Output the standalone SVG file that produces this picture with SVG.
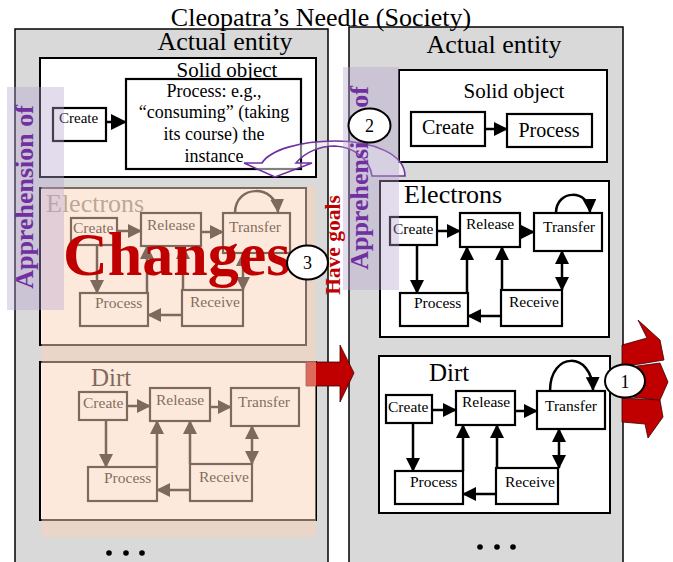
<svg xmlns="http://www.w3.org/2000/svg" width="673" height="562" viewBox="0 0 673 562">
<style>
text{font-family:"Liberation Serif","Times New Roman",serif;fill:#000}
.panel{fill:#d9d9d9;stroke:#000;stroke-width:1.5}
.box{fill:#fff;stroke:#000;stroke-width:2}
.nd{fill:#fff;stroke:#000;stroke-width:2.2}
.nt{font-size:15.5px}
.big{font-size:26px}
.c{stroke:#000;stroke-width:2.5;fill:none;marker-end:url(#ah)}
.d{marker-start:url(#ah)}
.band{fill:#b3a2d0;opacity:0.38}
.ap{font-size:26px;font-weight:bold;fill:#7030a0}
.circ{fill:#fff;stroke:#000;stroke-width:2}
.ct{font-size:18px}
.red{fill:#c00000;stroke:#3a0000;stroke-width:0.8}
</style>
<defs>
<marker id="ah" viewBox="0 0 14 14" refX="13" refY="7" markerWidth="14" markerHeight="14" markerUnits="userSpaceOnUse" orient="auto-start-reverse"><path d="M0,0 L14,7 L0,14 z" fill="#000"/></marker>
<marker id="ahL" viewBox="0 0 16 16" refX="15" refY="8" markerWidth="16" markerHeight="16" markerUnits="userSpaceOnUse" orient="auto"><path d="M0,0 L16,8 L0,16 z" fill="#000"/></marker>
</defs>

<!-- panels -->
<g id="left-panel">
<rect class="panel" x="15" y="29" width="313" height="545"/>
<text class="big" x="225" y="50" text-anchor="middle">Actual entity</text>
</g>
<g id="right-panel">
<rect class="panel" x="349" y="27" width="274" height="545"/>
<text class="big" x="494" y="53" text-anchor="middle">Actual entity</text>
</g>

<text id="title" x="321" y="26" font-size="26" text-anchor="middle">Cleopatra’s Needle (Society)</text>

<!-- left solid object -->
<g id="L-solid">
<rect class="box" x="40" y="58" width="276" height="119"/>
<text x="227" y="77" font-size="21" text-anchor="middle">Solid object</text>
</g>
<g id="L-solid-create">
<rect class="nd" x="53" y="108" width="53" height="33"/>
<text x="59" y="123" font-size="15">Create</text>
</g>
<g id="L-solid-process">
<rect class="nd" x="126" y="79" width="175" height="90"/>
<text x="214" y="97" font-size="18" text-anchor="middle">Process:  e.g.,</text>
<text x="214" y="118" font-size="18" text-anchor="middle">“consuming” (taking</text>
<text x="214" y="140" font-size="18" text-anchor="middle">its course) the</text>
<text x="214" y="162" font-size="18" text-anchor="middle">instance</text>
</g>

<!-- left electrons -->
<g id="L-electrons">
<rect class="box" x="40" y="188" width="266" height="157"/>
<text x="46" y="212" font-size="26" style="fill:#7a7a7a">Electrons</text>
</g>
<g id="LE-create"><rect class="nd" x="71" y="218" width="46" height="27"/><text class="nt" x="73" y="233">Create</text></g>
<g id="LE-release"><rect class="nd" x="141" y="213" width="60" height="33"/><text class="nt" x="147" y="230">Release</text></g>
<g id="LE-transfer"><rect class="nd" x="223" y="213" width="67" height="40"/><text class="nt" x="229" y="232">Transfer</text></g>
<g id="LE-process"><rect class="nd" x="80" y="293" width="68" height="33"/><text class="nt" x="95" y="308">Process</text></g>
<g id="LE-receive"><rect class="nd" x="182" y="290" width="61" height="36"/><text class="nt" x="190" y="307">Receive</text></g>

<!-- left dirt -->
<g id="L-dirt">
<rect class="box" x="40" y="362" width="276" height="158"/>
<text x="91" y="386" font-size="25">Dirt</text>
</g>
<g id="LD-create"><rect class="nd" x="79" y="392" width="48" height="28"/><text class="nt" x="83" y="408">Create</text></g>
<g id="LD-release"><rect class="nd" x="150" y="388" width="60" height="33"/><text class="nt" x="156" y="405">Release</text></g>
<g id="LD-transfer"><rect class="nd" x="231" y="388" width="68" height="38"/><text class="nt" x="238" y="407">Transfer</text></g>
<g id="LD-process"><rect class="nd" x="88" y="467" width="69" height="34"/><text class="nt" x="104" y="483">Process</text></g>
<g id="LD-receive"><rect class="nd" x="190" y="464" width="62" height="37"/><text class="nt" x="199" y="482">Receive</text></g>

<!-- middle red arrow (partly under overlay) -->
<g id="have-goals-arrow">
<path class="red" d="M306,362 H340 V345 L354,373 L340,402 V386 H306 Z"/>
</g>

<g id="connectors-left">
<path d="M106,122 H126" stroke="#000" stroke-width="2.5" fill="none" marker-end="url(#ahL)"/>
<path class="c" d="M117,231 H141"/>
<path class="c" d="M201,232 H223"/>
<path class="c" d="M235,213 C235,184 276,184 278,212"/>
<path class="c" d="M97,245 V293"/>
<path class="c" d="M147,293 V246"/>
<path class="c" d="M183,290 V246"/>
<path class="c" d="M182,315 H148"/>
<path class="c d" d="M243,253 V290"/>
<path class="c" d="M127,406 H150"/>
<path class="c" d="M210,407 H231"/>
<path class="c" d="M106,420 V467"/>
<path class="c" d="M157,467 V421"/>
<path class="c" d="M190,464 V421"/>
<path class="c" d="M190,490 H157"/>
<path class="c d" d="M252,426 V464"/>
</g>

<!-- peach overlay -->
<rect id="changes-overlay" x="41.5" y="187" width="274.5" height="350" fill="#fbd3b7" opacity="0.5"/>

<g id="L-dots" fill="#000">
<circle cx="109" cy="553" r="2.8"/><circle cx="126" cy="553" r="2.8"/><circle cx="142" cy="553" r="2.8"/>
</g>

<!-- right solid object -->
<g id="R-solid">
<rect class="box" x="399" y="70" width="208" height="92"/>
<text x="514" y="98" font-size="21" text-anchor="middle">Solid object</text>
</g>
<g id="RS-create"><rect class="nd" x="411" y="112" width="74" height="34"/><text x="448" y="134" font-size="20" text-anchor="middle">Create</text></g>
<g id="RS-process"><rect class="nd" x="507" y="114" width="85" height="33"/><text x="549" y="137" font-size="20" text-anchor="middle">Process</text></g>

<!-- right electrons -->
<g id="R-electrons">
<rect class="box" x="380" y="181" width="229" height="156"/>
<text x="404" y="203" font-size="26">Electrons</text>
</g>
<g id="RE-create"><rect class="nd" x="390" y="217" width="47" height="28"/><text class="nt" x="393" y="234">Create</text></g>
<g id="RE-release"><rect class="nd" x="460" y="213" width="60" height="34"/><text class="nt" x="466" y="229">Release</text></g>
<g id="RE-transfer"><rect class="nd" x="534" y="213" width="68" height="38"/><text class="nt" x="543" y="232">Transfer</text></g>
<g id="RE-process"><rect class="nd" x="400" y="293" width="68" height="33"/><text class="nt" x="414" y="308">Process</text></g>
<g id="RE-receive"><rect class="nd" x="501" y="290" width="61" height="36"/><text class="nt" x="509" y="307">Receive</text></g>

<!-- right dirt -->
<g id="R-dirt">
<rect class="box" x="379" y="356" width="231" height="157"/>
<text x="429" y="381" font-size="25">Dirt</text>
</g>
<g id="RD-create"><rect class="nd" x="386" y="395" width="46" height="28"/><text class="nt" x="388" y="412">Create</text></g>
<g id="RD-release"><rect class="nd" x="456" y="391" width="59" height="34"/><text class="nt" x="462" y="407">Release</text></g>
<g id="RD-transfer"><rect class="nd" x="537" y="391" width="68" height="38"/><text class="nt" x="545" y="411">Transfer</text></g>
<g id="RD-process"><rect class="nd" x="395" y="471" width="68" height="33"/><text class="nt" x="410" y="487">Process</text></g>
<g id="RD-receive"><rect class="nd" x="496" y="468" width="62" height="36"/><text class="nt" x="505" y="487">Receive</text></g>

<g id="connectors-right">
<path class="c" d="M485,129 H507"/>
<path class="c" d="M437,231 H460"/>
<path class="c" d="M520,232 H534"/>
<path class="c" d="M556,213 C556,189 589,189 590,212"/>
<path class="c" d="M417,245 V293"/>
<path class="c" d="M467,293 V247"/>
<path class="c" d="M502,290 V247"/>
<path class="c" d="M501,316 H468"/>
<path class="c d" d="M562,251 V290"/>
<path class="c" d="M432,410 H456"/>
<path class="c" d="M515,411 H537"/>
<path class="c" d="M550,391 C550,351 592,351 593,390"/>
<path class="c" d="M413,423 V471"/>
<path class="c" d="M463,471 V425"/>
<path class="c" d="M497,468 V425"/>
<path class="c" d="M496,494 H463"/>
<path class="c d" d="M559,429 V468"/>
</g>

<g id="R-dots" fill="#000">
<circle cx="480" cy="547" r="2.8"/><circle cx="497" cy="547" r="2.8"/><circle cx="513" cy="547" r="2.8"/>
</g>

<!-- purple curved arrow -->
<g id="apprehension-arrow">
<path d="M405,176 C405,155 375,141 335,141 C300,141 270,150 262,163 L244,163 L275,177 L312,163 L296,163 C305,152 320,146 335,146 C355,147 370,160 372,176 Z" fill="#fff" fill-opacity="0.5" stroke="#7030a0" stroke-width="1.6"/>
</g>

<!-- apprehension bands -->
<g id="L-apprehension">
<rect class="band" x="7" y="87" width="57" height="223"/>
<text class="ap" transform="translate(33,197) rotate(-90)" text-anchor="middle">Apprehension of</text>
</g>
<g id="R-apprehension">
<rect class="band" x="343" y="67" width="56" height="223"/>
<text class="ap" transform="translate(368,178) rotate(-90)" text-anchor="middle">Apprehension of</text>
</g>

<!-- Changes -->
<text id="changes" x="63" y="275" font-size="62" font-weight="bold" style="fill:#c00000">Changes</text>

<!-- Have goals -->
<text id="have-goals" transform="translate(340,245) rotate(-90)" text-anchor="middle" font-size="21.5" font-weight="bold" style="fill:#c00000">Have goals</text>

<!-- red output arrows -->
<g id="output-arrows">
<polygon class="red" points="622,398 660,400 663,417 648,438 645,424 622,422"/>
<polygon class="red" points="622,368 660,363 668,382 660,400 622,396"/>
<polygon class="red" points="622,345 647,338 638,320 660,340 664,360 640,364 622,366"/>
</g>

<!-- numbered circles -->
<g id="circle-2"><ellipse class="circ" cx="369.5" cy="125.5" rx="21" ry="17"/><text class="ct" x="369.5" y="132" text-anchor="middle">2</text></g>
<g id="circle-3"><ellipse class="circ" cx="307.5" cy="262.5" rx="20.5" ry="17"/><text class="ct" x="307.5" y="269" text-anchor="middle">3</text></g>
<g id="circle-1"><ellipse class="circ" cx="625" cy="381" rx="20" ry="16.5"/><text class="ct" x="625" y="387.5" text-anchor="middle">1</text></g>
</svg>
